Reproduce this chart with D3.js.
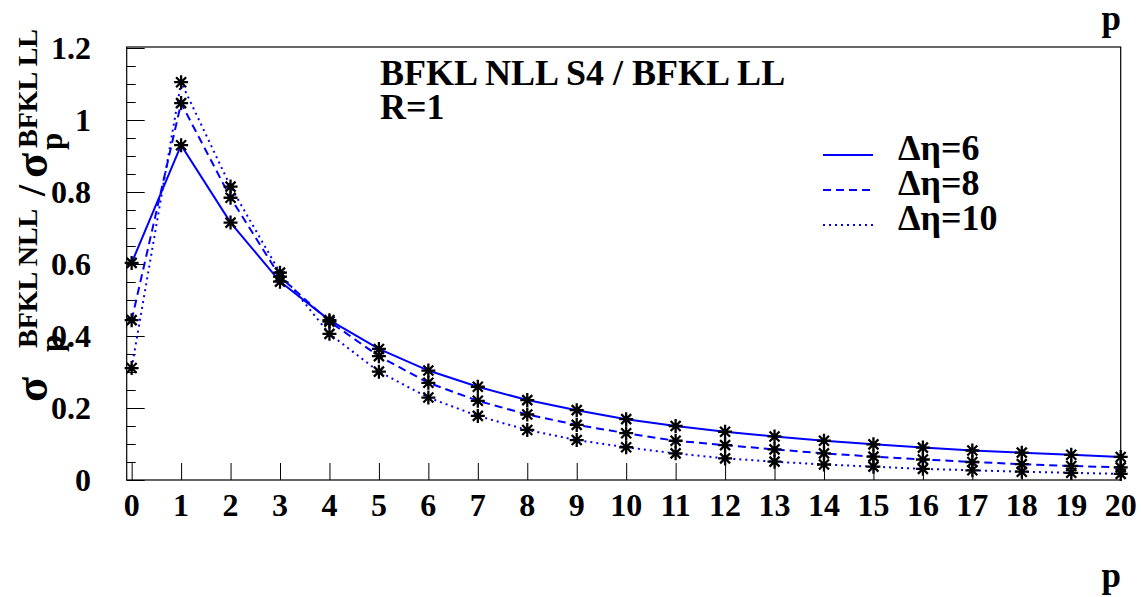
<!DOCTYPE html>
<html>
<head>
<meta charset="utf-8">
<script src="https://cdn.jsdelivr.net/npm/d3@7"></script>
<style>
  body { margin: 0; background: #fff; }
  text { font-family: "Liberation Serif", "Times New Roman", serif; font-weight: bold; }
</style>
</head>
<body>
<div id="chart"></div>
<script>
// values
const pValues = d3.range(0, 21);
const eta6  = [0.603, 0.930, 0.715, 0.551, 0.444, 0.364, 0.304, 0.259, 0.222, 0.194, 0.169, 0.150, 0.134, 0.121, 0.109, 0.099, 0.090, 0.082, 0.076, 0.070, 0.064];
const eta8  = [0.444, 1.047, 0.784, 0.565, 0.440, 0.344, 0.270, 0.220, 0.182, 0.153, 0.130, 0.109, 0.097, 0.085, 0.074, 0.065, 0.057, 0.050, 0.044, 0.039, 0.035];
const eta10 = [0.311, 1.105, 0.815, 0.576, 0.406, 0.301, 0.229, 0.178, 0.139, 0.111, 0.091, 0.074, 0.060, 0.051, 0.043, 0.037, 0.031, 0.027, 0.023, 0.020, 0.017];
const seriesNames = ["\u0394\u03b7=6", "\u0394\u03b7=8", "\u0394\u03b7=10"];
const yTicks = [0, 0.2, 0.4, 0.6, 0.8, 1, 1.2];

const W = 1141, H = 597;
const padL = 126.7, padR = 1120.7, padT = 47, padB = 480;

const series = [
  { name: seriesNames[0], vals: eta6,  dash: null },
  { name: seriesNames[1], vals: eta8,  dash: "8,5" },
  { name: seriesNames[2], vals: eta10, dash: "2,4" }
];

const x = d3.scaleLinear().domain([-0.1, 20]).range([padL, padR]);
const y = d3.scaleLinear().domain([0, 1.2]).range([padB, 48]);

const svg = d3.select("#chart").append("svg")
  .attr("width", W).attr("height", H);

// frame
svg.append("rect")
  .attr("x", padL).attr("y", padT)
  .attr("width", padR - padL).attr("height", padB - padT)
  .attr("fill", "none").attr("stroke", "#000").attr("stroke-width", 1.2);

// y axis: major + minor ticks drawn inward
const yAxis = d3.axisRight(y)
  .tickValues(d3.range(0, 1.2001, 0.05))
  .tickSize(0)
  .tickFormat("");
const yg = svg.append("g").attr("transform", `translate(${padL},0)`).call(yAxis);
yg.select(".domain").remove();
yg.selectAll(".tick line")
  .attr("x2", (d, i) => (i % 4 === 0 ? 18 : 9))
  .attr("stroke", "#000").attr("stroke-width", 1);

svg.append("g").selectAll("text")
  .data(yTicks)
  .enter().append("text")
  .attr("x", 91)
  .attr("y", d => y(d) + 11)
  .attr("text-anchor", "end")
  .attr("font-size", 32)
  .text(d => d3.format("~g")(d));

// x axis ticks pointing up
const xAxis = d3.axisTop(x).tickValues(pValues).tickSize(0).tickFormat("");
const xg = svg.append("g").attr("transform", `translate(0,${padB})`).call(xAxis);
xg.select(".domain").remove();
xg.selectAll(".tick line").attr("y2", -17).attr("stroke", "#000").attr("stroke-width", 1);

svg.append("g").selectAll("text")
  .data(pValues)
  .enter().append("text")
  .attr("x", d => x(d))
  .attr("y", 516)
  .attr("text-anchor", "middle")
  .attr("font-size", 32)
  .text(d => d);

// lines
const line = d3.line().x((d, i) => x(pValues[i])).y(d => y(d));
series.forEach(s => {
  svg.append("path")
    .datum(s.vals)
    .attr("d", line)
    .attr("fill", "none")
    .attr("stroke", "#0000ff")
    .attr("stroke-width", 2)
    .attr("stroke-dasharray", s.dash);
});

// asterisk markers
const star = "M-7,0H7M0,-7V7M-5,-5L5,5M-5,5L5,-5";
series.forEach(s => {
  svg.append("g").selectAll("path")
    .data(s.vals)
    .enter().append("path")
    .attr("transform", (d, i) => `translate(${x(pValues[i])},${y(d)})`)
    .attr("d", star)
    .attr("stroke", "#000")
    .attr("stroke-width", 2.3)
    .attr("fill", "none");
});

// title
svg.append("text").attr("x", 380).attr("y", 85).attr("font-size", 36)
  .text("BFKL NLL S4 / BFKL LL");
svg.append("text").attr("x", 380).attr("y", 119).attr("font-size", 36)
  .text("R=1");

// legend
const legY = [155, 190, 225];
series.forEach((s, i) => {
  svg.append("line")
    .attr("x1", 823).attr("x2", 873)
    .attr("y1", legY[i]).attr("y2", legY[i])
    .attr("stroke", "#0000ff").attr("stroke-width", 2)
    .attr("stroke-dasharray", s.dash);
  svg.append("text")
    .attr("x", 898).attr("y", legY[i] + 5)
    .attr("font-size", 36)
    .text(s.name);
});

// axis titles
svg.append("text").attr("x", 1121).attr("y", 30).attr("text-anchor", "end")
  .attr("font-size", 35).text("p");
svg.append("text").attr("x", 1121).attr("y", 587).attr("text-anchor", "end")
  .attr("font-size", 35).text("p");

// y title, sub- and superscripts stacked like TLatex
const yt = svg.append("g").attr("transform", "rotate(-90)");
const ytParts = [
  { t: "\u03c3", tx: -402, ty: 47, fs: 46 },
  { t: "p", tx: -352, ty: 62, fs: 31 },
  { t: "BFKL NLL", tx: -348, ty: 37, fs: 28 },
  { t: "/", tx: -196, ty: 45, fs: 40 },
  { t: "\u03c3", tx: -178, ty: 47, fs: 46 },
  { t: "p", tx: -150, ty: 62, fs: 31 },
  { t: "BFKL LL", tx: -148, ty: 37, fs: 28 }
];
yt.selectAll("text")
  .data(ytParts)
  .enter().append("text")
  .attr("x", d => d.tx).attr("y", d => d.ty)
  .attr("font-size", d => d.fs)
  .text(d => d.t);
</script>
</body>
</html>
